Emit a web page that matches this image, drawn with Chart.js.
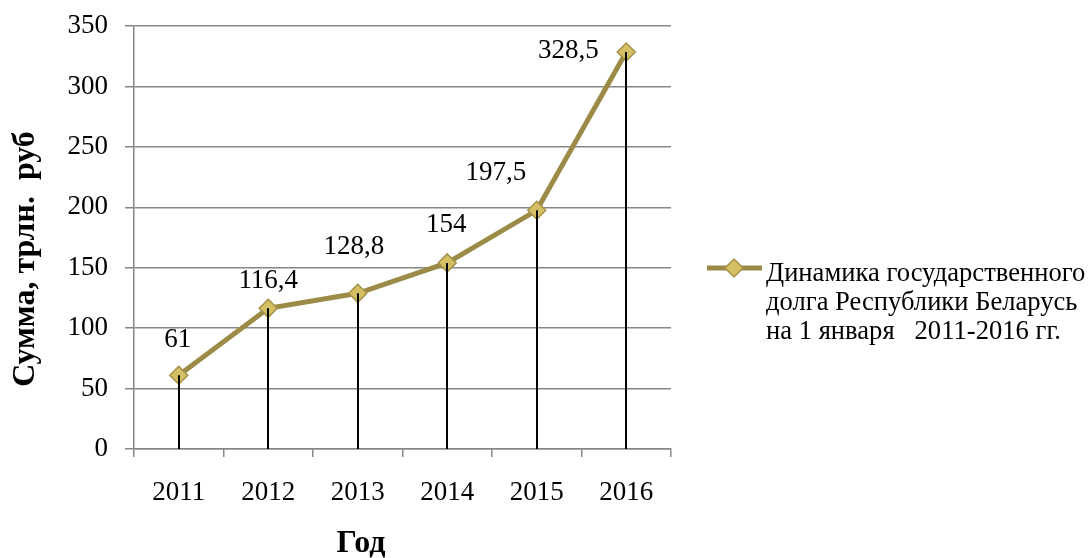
<!DOCTYPE html>
<html>
<head>
<meta charset="utf-8">
<script src="https://cdn.jsdelivr.net/npm/chart.js@4"></script>
<style>
  html, body { margin: 0; padding: 0; background: #ffffff; }
  canvas { display: block; }
</style>
</head>
<body>
<canvas id="c" width="1089" height="558"></canvas>
<script>
// ---- data ----
const years = ['2011', '2012', '2013', '2014', '2015', '2016'];
const debt = [61, 116.4, 128.8, 154, 197.5, 328.5];
const debtLabels = ['61', '116,4', '128,8', '154', '197,5', '328,5'];
const yTicks = [0, 50, 100, 150, 200, 250, 300, 350];
const seriesName = ['Динамика государственного', 'долга Республики Беларусь', 'на 1 января   2011-2016 гг.'];
const yTitle = 'Сумма, трлн.  руб';
const xTitle = 'Год';

// ---- styles ----
const FONT = '"Liberation Serif", "Times New Roman", serif';
const LINE_COLOR = '#9C8A47';
const MARKER_FILL = '#D4BF63';
const MARKER_BORDER = '#A5924A';
const GRID = '#878787';
// label offsets relative to the point (pixels)
const labelDx = [-1, 0, -4, -1, -41, -58];
const labelDy = [-35, -27, -46, -38, -37, -1];

const dropLines = {
  id: 'dropLines',
  afterDatasetsDraw(chart) {
    const ctx = chart.ctx;
    const meta = chart.getDatasetMeta(0);
    const bottom = chart.scales.y.getPixelForValue(0);
    ctx.save();
    ctx.strokeStyle = '#000000';
    ctx.lineWidth = 2;
    meta.data.forEach(pt => {
      ctx.beginPath();
      ctx.moveTo(Math.round(pt.x), pt.y);
      ctx.lineTo(Math.round(pt.x), bottom);
      ctx.stroke();
    });
    ctx.restore();
  }
};

const labelsAndTitles = {
  id: 'labelsAndTitles',
  afterDraw(chart) {
    const ctx = chart.ctx;
    const meta = chart.getDatasetMeta(0);
    ctx.save();
    // data labels
    ctx.fillStyle = '#000000';
    ctx.font = '27px ' + FONT;
    ctx.textAlign = 'center';
    ctx.textBaseline = 'middle';
    meta.data.forEach((pt, i) => {
      ctx.fillText(debtLabels[i], pt.x + labelDx[i], pt.y + labelDy[i]);
    });
    // axis titles
    ctx.font = 'bold 32px ' + FONT;
    ctx.save();
    ctx.translate(26, 259);
    ctx.rotate(-Math.PI / 2);
    ctx.fillText(yTitle, 0, 0);
    ctx.restore();
    ctx.fillText(xTitle, 361, 544);
    // legend
    const ly = 268;
    ctx.strokeStyle = LINE_COLOR;
    ctx.lineWidth = 5;
    ctx.beginPath();
    ctx.moveTo(707, ly);
    ctx.lineTo(762, ly);
    ctx.stroke();
    const cx = 734, r = 9;
    ctx.beginPath();
    ctx.moveTo(cx - r, ly);
    ctx.lineTo(cx, ly - r);
    ctx.lineTo(cx + r, ly);
    ctx.lineTo(cx, ly + r);
    ctx.closePath();
    ctx.fillStyle = MARKER_FILL;
    ctx.fill();
    ctx.strokeStyle = MARKER_BORDER;
    ctx.lineWidth = 1.5;
    ctx.stroke();
    ctx.fillStyle = '#000000';
    ctx.font = '26.6px ' + FONT;
    ctx.textAlign = 'left';
    ctx.textBaseline = 'alphabetic';
    seriesName.forEach((t, i) => ctx.fillText(t, 766, 281 + i * 29));
    ctx.restore();
  }
};

new Chart(document.getElementById('c'), {
  type: 'line',
  data: {
    labels: years,
    datasets: [{
      label: seriesName.join(' '),
      data: debt,
      borderColor: LINE_COLOR,
      borderWidth: 5,
      tension: 0,
      pointStyle: 'rectRot',
      pointRadius: 9,
      pointHoverRadius: 9,
      pointBackgroundColor: MARKER_FILL,
      pointBorderColor: MARKER_BORDER,
      pointBorderWidth: 1.5,
      clip: false
    }]
  },
  options: {
    responsive: false,
    animation: false,
    devicePixelRatio: 1,
    layout: { padding: { top: 26, right: 418, left: 0, bottom: 0 } },
    plugins: {
      legend: { display: false },
      tooltip: { enabled: false },
      title: { display: false }
    },
    scales: {
      x: {
        type: 'category',
        offset: true,
        afterFit(scale) { scale.height = 109; scale.paddingLeft = 0; scale.paddingRight = 0; },
        grid: {
          offset: true,
          drawOnChartArea: false,
          drawTicks: true,
          tickLength: 8,
          color: GRID,
          lineWidth: 1.5
        },
        border: { color: GRID, width: 1.5 },
        ticks: {
          color: '#000000',
          font: { family: FONT, size: 27 },
          padding: 20,
          maxRotation: 0,
          autoSkip: false
        }
      },
      y: {
        min: 0,
        max: 350,
        afterFit(scale) { scale.width = 134; scale.paddingTop = 0; scale.paddingBottom = 0; },
        afterBuildTicks(scale) { scale.ticks = yTicks.map(v => ({ value: v })); },
        grid: {
          color: GRID,
          lineWidth: 1.5,
          tickLength: 9
        },
        border: { color: GRID, width: 1.5 },
        ticks: {
          color: '#000000',
          font: { family: FONT, size: 27 },
          padding: 17
        }
      }
    }
  },
  plugins: [dropLines, labelsAndTitles]
});
</script>
</body>
</html>
